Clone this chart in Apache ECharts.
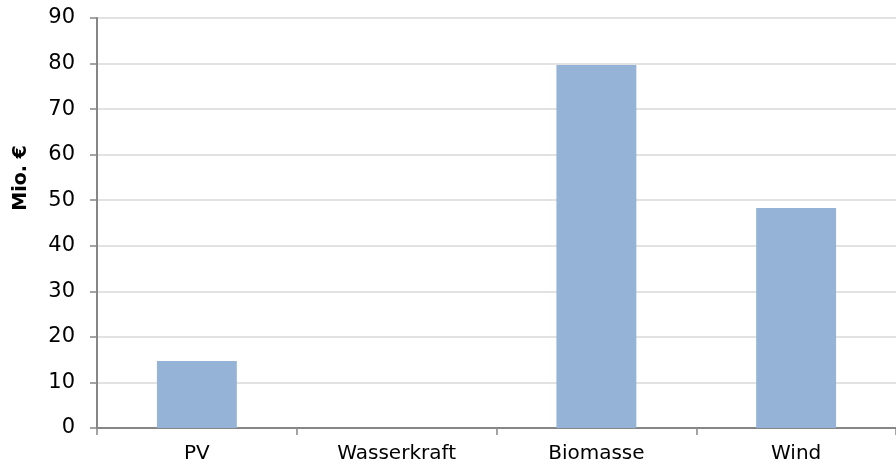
<!DOCTYPE html>
<html>
<head>
<meta charset="utf-8">
<script src="https://cdn.jsdelivr.net/npm/echarts@6/dist/echarts.min.js"></script>
<style>
  html, body { margin: 0; padding: 0; background: #fff; }
  #chart { width: 896px; height: 472px; }
</style>
</head>
<body>
<div id="chart"></div>
<script>
const categories = ["PV", "Wasserkraft", "Biomasse", "Wind"];
const values = [14.7, 0, 79.7, 48.3];
const yTicks = { min: 0, max: 90, interval: 10 };

const chart = echarts.init(document.getElementById("chart"));
const font = "'DejaVu Sans', sans-serif";
chart.setOption({
  animation: false,
  grid: { left: 97, right: 0, top: 18, bottom: 44 },
  xAxis: {
    type: "category",
    data: categories,
    axisLine: { lineStyle: { color: "#868686", width: 2 } },
    axisTick: { show: true, length: 7, lineStyle: { color: "#868686", width: 1.5 } },
    axisLabel: { color: "#000", fontSize: 20, fontFamily: font, margin: 16 },
  },
  yAxis: {
    type: "value",
    min: yTicks.min,
    max: yTicks.max,
    interval: yTicks.interval,
    name: "Mio. €",
    nameLocation: "middle",
    nameGap: 66,
    nameTextStyle: {
      color: "#000",
      fontSize: 19,
      fontWeight: "bold",
      fontFamily: font,
      padding: [0, 0, 0, 90],
    },
    axisLine: { show: true, lineStyle: { color: "#868686", width: 2 } },
    axisTick: { show: true, length: 7, lineStyle: { color: "#868686", width: 1.5 } },
    axisLabel: { color: "#000", fontSize: 21, fontFamily: font, margin: 22 },
    splitLine: { lineStyle: { color: "#d9d9d9", width: 1.5 } },
  },
  series: [
    {
      type: "bar",
      data: values,
      barWidth: "40%",
      itemStyle: { color: "#95b3d7" },
    },
  ],
});
</script>
</body>
</html>
